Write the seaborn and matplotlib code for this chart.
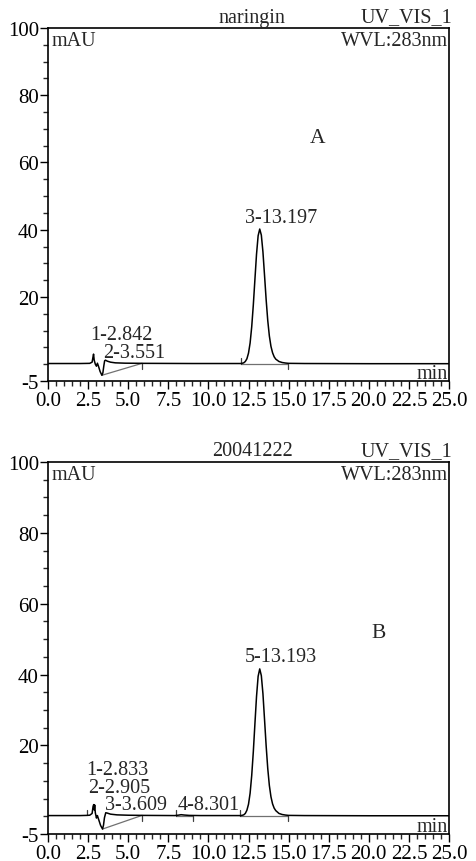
import matplotlib
matplotlib.use("Agg")
import matplotlib.pyplot as plt
import seaborn as sns
import numpy as np

# ---------------- data ----------------
time_a = [0.0, 2.0, 2.6, 2.75, 2.8, 2.84, 2.88, 2.95, 3.02, 3.08, 3.14, 3.25, 3.36, 3.42, 3.48,
          3.53, 3.58, 3.7, 3.9, 4.2, 4.8, 6.0, 9.0,
          12.0, 12.1, 12.2, 12.3, 12.4, 12.5, 12.6, 12.7, 12.8, 12.9, 13.0, 13.1, 13.2,
          13.3, 13.4, 13.5, 13.6, 13.7, 13.8, 13.9, 14.0, 14.1, 14.2, 14.4, 14.6, 14.8, 15.0,
          16.0, 20.0, 25.0]
signal_a = [0.2, 0.2, 0.25, 0.6, 2.0, 3.0, 1.2, 0.0, -0.6, 0.3, -0.5, -2.2, -3.3, -2.6, -0.5,
            1.0, 1.2, 0.9, 0.6, 0.4, 0.3, 0.25, 0.2,
            0.2, 0.27, 0.4, 0.8, 1.6, 3.3, 6.3, 11.1, 17.6, 25.2, 32.7, 38.2, 40.2,
            38.4, 33.4, 26.4, 19.2, 13.0, 8.4, 5.3, 3.4, 2.2, 1.5, 0.8, 0.5, 0.35, 0.25,
            0.2, 0.15, 0.15]

time_b = [0.0, 2.0, 2.4, 2.6, 2.75, 2.81, 2.85, 2.88, 2.91, 2.95, 3.02, 3.08, 3.15, 3.28, 3.4,
          3.46, 3.52, 3.6, 3.7, 3.9, 4.3, 5.0, 6.0, 7.9, 8.1, 8.3, 8.5, 8.8, 9.5,
          12.0, 12.1, 12.2, 12.3, 12.4, 12.5, 12.6, 12.7, 12.8, 12.9, 13.0, 13.1, 13.2,
          13.3, 13.4, 13.5, 13.6, 13.7, 13.8, 13.9, 14.0, 14.1, 14.2, 14.4, 14.6, 14.8, 15.0,
          16.0, 20.0, 25.0]
signal_b = [0.2, 0.2, 0.25, 0.3, 0.8, 2.8, 3.3, 1.8, 3.2, 1.0, -0.5, 0.2, -0.8, -2.6, -3.6,
            -2.5, -0.4, 1.0, 0.9, 0.6, 0.4, 0.3, 0.25, 0.2, 0.3, 0.45, 0.35, 0.25, 0.2,
            0.2, 0.27, 0.4, 0.8, 1.7, 3.4, 6.5, 11.5, 18.2, 26.1, 33.8, 39.5, 41.6,
            39.7, 34.6, 27.3, 19.9, 13.5, 8.7, 5.5, 3.5, 2.3, 1.6, 0.8, 0.5, 0.35, 0.25,
            0.2, 0.15, 0.15]

# integration baselines (start time, start level, end time, end level)
base_a_t0 = [3.36, 12.05]
base_a_y0 = [-3.3, 0.2]
base_a_t1 = [5.86, 14.95]
base_a_y1 = [0.25, 0.2]
base_b_t0 = [3.4, 7.96, 11.97]
base_b_y0 = [-3.6, 0.2, 0.2]
base_b_t1 = [5.86, 9.06, 14.94]
base_b_y1 = [0.25, 0.2, 0.2]

# peak delimiter marks (time, level, direction)
delim_a_t = [5.86, 12.05, 14.95]
delim_a_y = [0.25, 0.2, 0.2]
delim_a_dir = [-1, 1, -1]
delim_b_t = [2.45, 5.86, 7.96, 9.06, 11.97, 14.94]
delim_b_y = [0.25, 0.25, 0.2, 0.2, 0.2, 0.2]
delim_b_dir = [1, -1, 1, -1, 1, -1]

labels_a = ["1-2.842", "2-3.551", "3-13.197"]
labels_b = ["1-2.833", "2-2.905", "3-3.609", "4-8.301", "5-13.193"]
titles = ["naringin", "20041222"]
panel_letters = ["A", "B"]

x_ticks = [0.0, 2.5, 5.0, 7.5, 10.0, 12.5, 15.0, 17.5, 20.0, 22.5, 25.0]
y_ticks = [-5, 20, 40, 60, 80, 100]

# ---------------- layout / style ----------------
label_pos_a = [(2.62, 8.8), (3.45, 3.5), (12.28, 43.5)]
label_pos_b = [(2.41, 13.3), (2.51, 8.1), (3.55, 3.3), (8.1, 3.3), (12.28, 45.0)]
letter_pos = [(16.8, 67.5), (20.6, 52.0)]

sns.set_style("ticks")
plt.rcParams['font.family'] = ['Liberation Serif', 'DejaVu Serif']
FS = 14.5
TFS = 15

W, H = 477, 862
fig = plt.figure(figsize=(W / 100, H / 100), dpi=100)
axA = fig.add_axes([48 / W, 1 - 382 / H, 401 / W, 353 / H])
axB = fig.add_axes([48 / W, 1 - 835 / H, 401 / W, 372 / H])


def style_axis(ax, title, letter, lpos):
    ax.set_xlim(0, 25)
    ax.set_ylim(-5, 100)
    for s in ax.spines.values():
        s.set_visible(True)
        s.set_linewidth(1.2)
        s.set_color('black')
    ax.set_xticks(x_ticks)
    ax.set_xticklabels([f"{v:.1f}" for v in x_ticks])
    ax.set_xticks(np.arange(0, 25.01, 0.5), minor=True)
    ax.set_yticks(y_ticks)
    ax.set_yticklabels([str(v) for v in y_ticks])
    ax.set_yticks([v for v in range(0, 100, 5) if v % 20 != 0 or v == 0], minor=True)
    ax.tick_params(axis='both', which='major', direction='out', length=6, width=1,
                   labelsize=TFS, pad=1, colors='black')
    ax.tick_params(axis='both', which='minor', direction='out', length=3.5, width=1)
    ax.tick_params(axis='y', which='major', pad=0.5)
    ax.set_xlabel("")
    ax.set_ylabel("")
    ax.grid(False)
    ax.annotate("mAU", xy=(0, 1), xycoords='axes fraction', xytext=(4, -13),
                textcoords='offset pixels', ha='left', va='center', fontsize=FS)
    ax.annotate("WVL:283nm", xy=(1, 1), xycoords='axes fraction', xytext=(-1, -13),
                textcoords='offset pixels', ha='right', va='center', fontsize=FS)
    ax.annotate("min", xy=(1, 0), xycoords='axes fraction', xytext=(-1, 7),
                textcoords='offset pixels', ha='right', va='center', fontsize=FS)
    ax.annotate(title, xy=(0.509, 1), xycoords='axes fraction', xytext=(0, 11),
                textcoords='offset pixels', ha='center', va='center', fontsize=FS)
    ax.annotate("UV_VIS_1", xy=(1, 1), xycoords='axes fraction', xytext=(3, 11),
                textcoords='offset pixels', ha='right', va='center', fontsize=FS)
    ax.text(lpos[0], lpos[1], letter, ha='center', va='center', fontsize=FS + 1)


def draw(ax, t, y, b0t, b0y, b1t, b1y, dt, dy, dd, labels, lpos):
    for x0, y0, x1, y1 in zip(b0t, b0y, b1t, b1y):
        ax.plot([x0, x1], [y0, y1], color='#707070', lw=0.9)
    for x0, y0, d in zip(dt, dy, dd):
        ax.plot([x0, x0], [y0, y0 + d * 1.6], color='#404040', lw=0.9)
    sns.lineplot(x=t, y=y, ax=ax, color='black', lw=1.1, estimator=None, sort=False)
    for lab, (px, py) in zip(labels, lpos):
        ax.text(px, py, lab, ha='left', va='center', fontsize=FS)


draw(axA, time_a, signal_a, base_a_t0, base_a_y0, base_a_t1, base_a_y1,
     delim_a_t, delim_a_y, delim_a_dir, labels_a, label_pos_a)
draw(axB, time_b, signal_b, base_b_t0, base_b_y0, base_b_t1, base_b_y1,
     delim_b_t, delim_b_y, delim_b_dir, labels_b, label_pos_b)
style_axis(axA, titles[0], panel_letters[0], letter_pos[0])
style_axis(axB, titles[1], panel_letters[1], letter_pos[1])

fig.savefig("out.png", dpi=100)
